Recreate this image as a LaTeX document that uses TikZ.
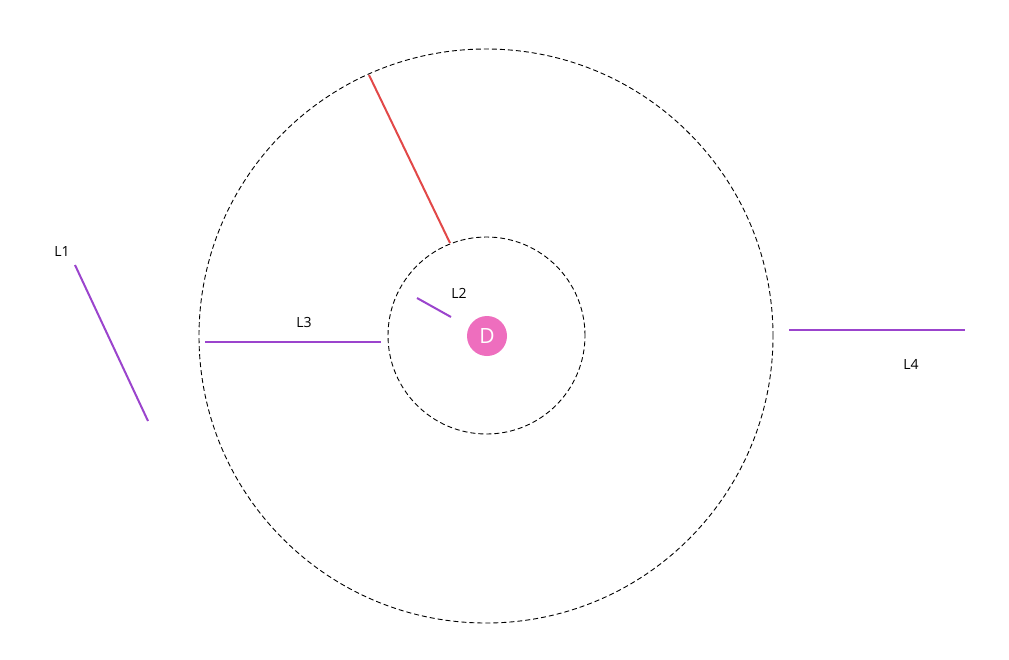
\documentclass[tikz,border=0pt]{standalone}
\usepackage{fontspec}
\setmainfont{Open Sans}
\definecolor{linepurple}{RGB}{155,68,205}
\definecolor{linered}{RGB}{226,72,72}
\definecolor{dpink}{RGB}{238,110,190}
\begin{document}
\begin{tikzpicture}[x=1pt,y=-1pt,
  ring/.style={draw=black,dashed,dash pattern=on 5pt off 3pt,line width=0.9pt},
  seg/.style={draw=linepurple,line width=2pt},
  redseg/.style={draw=linered,line width=2pt},
  lbl/.style={font=\fontsize{14}{16}\selectfont,text=black,inner sep=0pt},
  dnode/.style={circle,fill=dpink,minimum size=40pt,inner sep=0pt,text=white,font=\fontsize{21}{23}\selectfont}]
\useasboundingbox (0,0) rectangle (1009,659);
\fill[white] (0,0) rectangle (1009,659);
\node[circle,ring,minimum size=574pt,inner sep=0pt] (outer) at (486,336) {};
\node[circle,ring,minimum size=197pt,inner sep=0pt] (inner) at (486.5,335.5) {};
\node[dnode] (D) at (487,336) {D};
% red radial
\coordinate (r1) at (369,75);
\coordinate (r2) at (450,243);
\draw[redseg] (r1) -- (r2);
% L1
\coordinate (a1) at (75,265);
\coordinate (a2) at (148,421);
\draw[seg] (a1) -- (a2);
\node[lbl] (L1) at (62,251) {L1};
% L2
\coordinate (b1) at (417,298);
\coordinate (b2) at (451,317);
\draw[seg] (b1) -- (b2);
\node[lbl] (L2) at (459,293) {L2};
% L3
\coordinate (c1) at (205,342);
\coordinate (c2) at (381,342);
\draw[seg] (c1) -- (c2);
\node[lbl] (L3) at (304,322) {L3};
% L4
\coordinate (d1) at (789,330);
\coordinate (d2) at (965,330);
\draw[seg] (d1) -- (d2);
\node[lbl] (L4) at (911,364) {L4};
\end{tikzpicture}
\end{document}
